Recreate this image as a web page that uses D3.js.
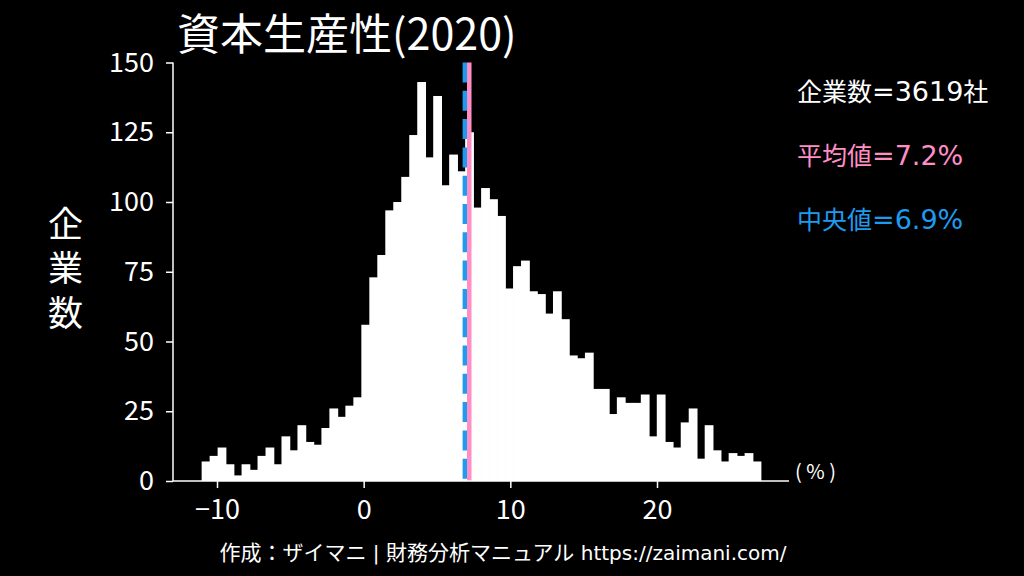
<!DOCTYPE html>
<html><head><meta charset="utf-8">
<script src="https://cdn.jsdelivr.net/npm/d3@7"></script>
<style>
html,body{margin:0;padding:0;background:#000;}
svg{display:block;}
text{font-family:"Noto Sans CJK JP","Noto Sans",sans-serif;}
</style></head>
<body>
<script>
// Data
const title = "資本生産性(2020)";
const counts = [7,9,12,6,2,6,4,9,12,6,16,11,20,14,13,19,26,23,27,30,
  56,73,81,97,100,109,124,143,116,138,106,117,111,125,98,105,101,95,69,77,
  79,68,67,60,68,58,45,44,46,33,33,24,30,28,28,31,16,31,14,12,
  21,26,8,20,11,7,10,9,10,7];
const binMin = -11.02, binMax = 27.09;
const xTicks = [-10, 0, 10, 20];
const yTicks = [0, 25, 50, 75, 100, 125, 150];
const meanVal = 7.2, medianVal = 6.9;
const companyCount = 3619;
const yLabel = "企業数";
const creditJa1 = "作成：ザイマニ";
const creditJa2 = "財務分析マニュアル";
const creditUrl = "https://zaimani.com/";

const W = 1024, H = 576;
const PINK = "#ff8ec6", BLUE = "#1e9bef";
const CJK = "'Noto Sans CJK JP',sans-serif";
const LAT = "'DejaVu Sans',sans-serif";

const svg = d3.select("body").append("svg").attr("width", W).attr("height", H);
svg.append("rect").attr("width", W).attr("height", H).attr("fill", "#000");

const x = d3.scaleLinear().domain([-13, 29]).range([173, 789]);
const y = d3.scaleLinear().domain([0, 150]).range([481, 62.5]);

const bw = (binMax - binMin) / counts.length;
const bins = counts.map((c, i) => ({x0: binMin + i * bw, x1: binMin + (i + 1) * bw, c}));

svg.append("g").selectAll("rect").data(bins).join("rect")
  .attr("x", d => x(d.x0) - 0.4)
  .attr("width", d => x(d.x1) - x(d.x0) + 0.8)
  .attr("y", d => y(d.c))
  .attr("height", d => y(0) - y(d.c))
  .attr("fill", "#fff");

// median (blue dashed) and mean (pink)
svg.append("line").attr("x1", x(medianVal)).attr("x2", x(medianVal))
  .attr("y1", y(150)).attr("y2", y(0))
  .attr("stroke", BLUE).attr("stroke-width", 4.5)
  .attr("stroke-dasharray", "20,8.3");
svg.append("line").attr("x1", x(meanVal)).attr("x2", x(meanVal))
  .attr("y1", y(0)).attr("y2", y(150))
  .attr("stroke", PINK).attr("stroke-width", 4.5);

// axes
const xAxis = d3.axisBottom(x).tickValues(xTicks).tickSize(7).tickPadding(12)
  .tickFormat(d => d < 0 ? "\u2212" + Math.abs(d) : d);
const gx = svg.append("g").attr("transform", `translate(0,${y(0)})`).call(xAxis);
gx.select(".domain").attr("stroke", "#fff").attr("stroke-width", 1.5).attr("d", `M${x.range()[0]},0H${x.range()[1]}`);
gx.selectAll(".tick line").attr("stroke", "#fff").attr("stroke-width", 1.5);
gx.selectAll(".tick text").attr("fill", "#fff").attr("font-size", 27).style("font-family", CJK);

const yAxis = d3.axisLeft(y).tickValues(yTicks).tickSize(7).tickPadding(12);
const gy = svg.append("g").attr("transform", `translate(${x.range()[0]},0)`).call(yAxis);
gy.select(".domain").attr("stroke", "#fff").attr("stroke-width", 1.5).attr("d", `M0,${y.range()[0]}V${y.range()[1]}`);
gy.selectAll(".tick line").attr("stroke", "#fff").attr("stroke-width", 1.5);
gy.selectAll(".tick text").attr("fill", "#fff").attr("font-size", 27).style("font-family", CJK);

// title
svg.append("text").attr("x", 177).attr("y", 50).attr("fill", "#fff")
  .attr("font-size", 43).style("font-family", CJK).text(title);

// y label (vertical)
svg.append("text").attr("x", 65.5).attr("y", 206)
  .attr("fill", "#fff").attr("font-size", 35)
  .style("font-family", CJK)
  .style("writing-mode", "vertical-rl")
  .style("text-orientation", "upright")
  .style("letter-spacing", "9.5px")
  .text(yLabel);

// helper for mixed runs
function runs(sel, parts) {
  parts.forEach(p => sel.append("tspan").style("font-family", p.f).attr("font-size", p.s).text(p.t));
  return sel;
}

// right annotations
runs(svg.append("text").attr("x", 797).attr("y", 101).attr("fill", "#fff"), [
  {t: "企業数", f: CJK, s: 25}, {t: `=${companyCount}`, f: LAT, s: 27}, {t: "社", f: CJK, s: 25}]);
runs(svg.append("text").attr("x", 797).attr("y", 164.5).attr("fill", PINK), [
  {t: "平均値", f: CJK, s: 25}, {t: `=${meanVal}%`, f: LAT, s: 27}]);
runs(svg.append("text").attr("x", 797).attr("y", 229).attr("fill", BLUE), [
  {t: "中央値", f: CJK, s: 25}, {t: `=${medianVal}%`, f: LAT, s: 27}]);

// unit
svg.append("text").attr("x", 795).attr("y", 479).attr("fill", "#fff").attr("font-size", 20)
  .style("font-family", CJK).attr("xml:space", "preserve").text("( % )");

// credit
runs(svg.append("text").attr("x", 503).attr("y", 560).attr("text-anchor", "middle")
  .attr("fill", "#fff").attr("xml:space", "preserve"), [
  {t: creditJa1, f: CJK, s: 21}, {t: " | ", f: LAT, s: 20},
  {t: creditJa2, f: CJK, s: 21}, {t: " " + creditUrl, f: LAT, s: 20}]);
</script>
</body></html>
